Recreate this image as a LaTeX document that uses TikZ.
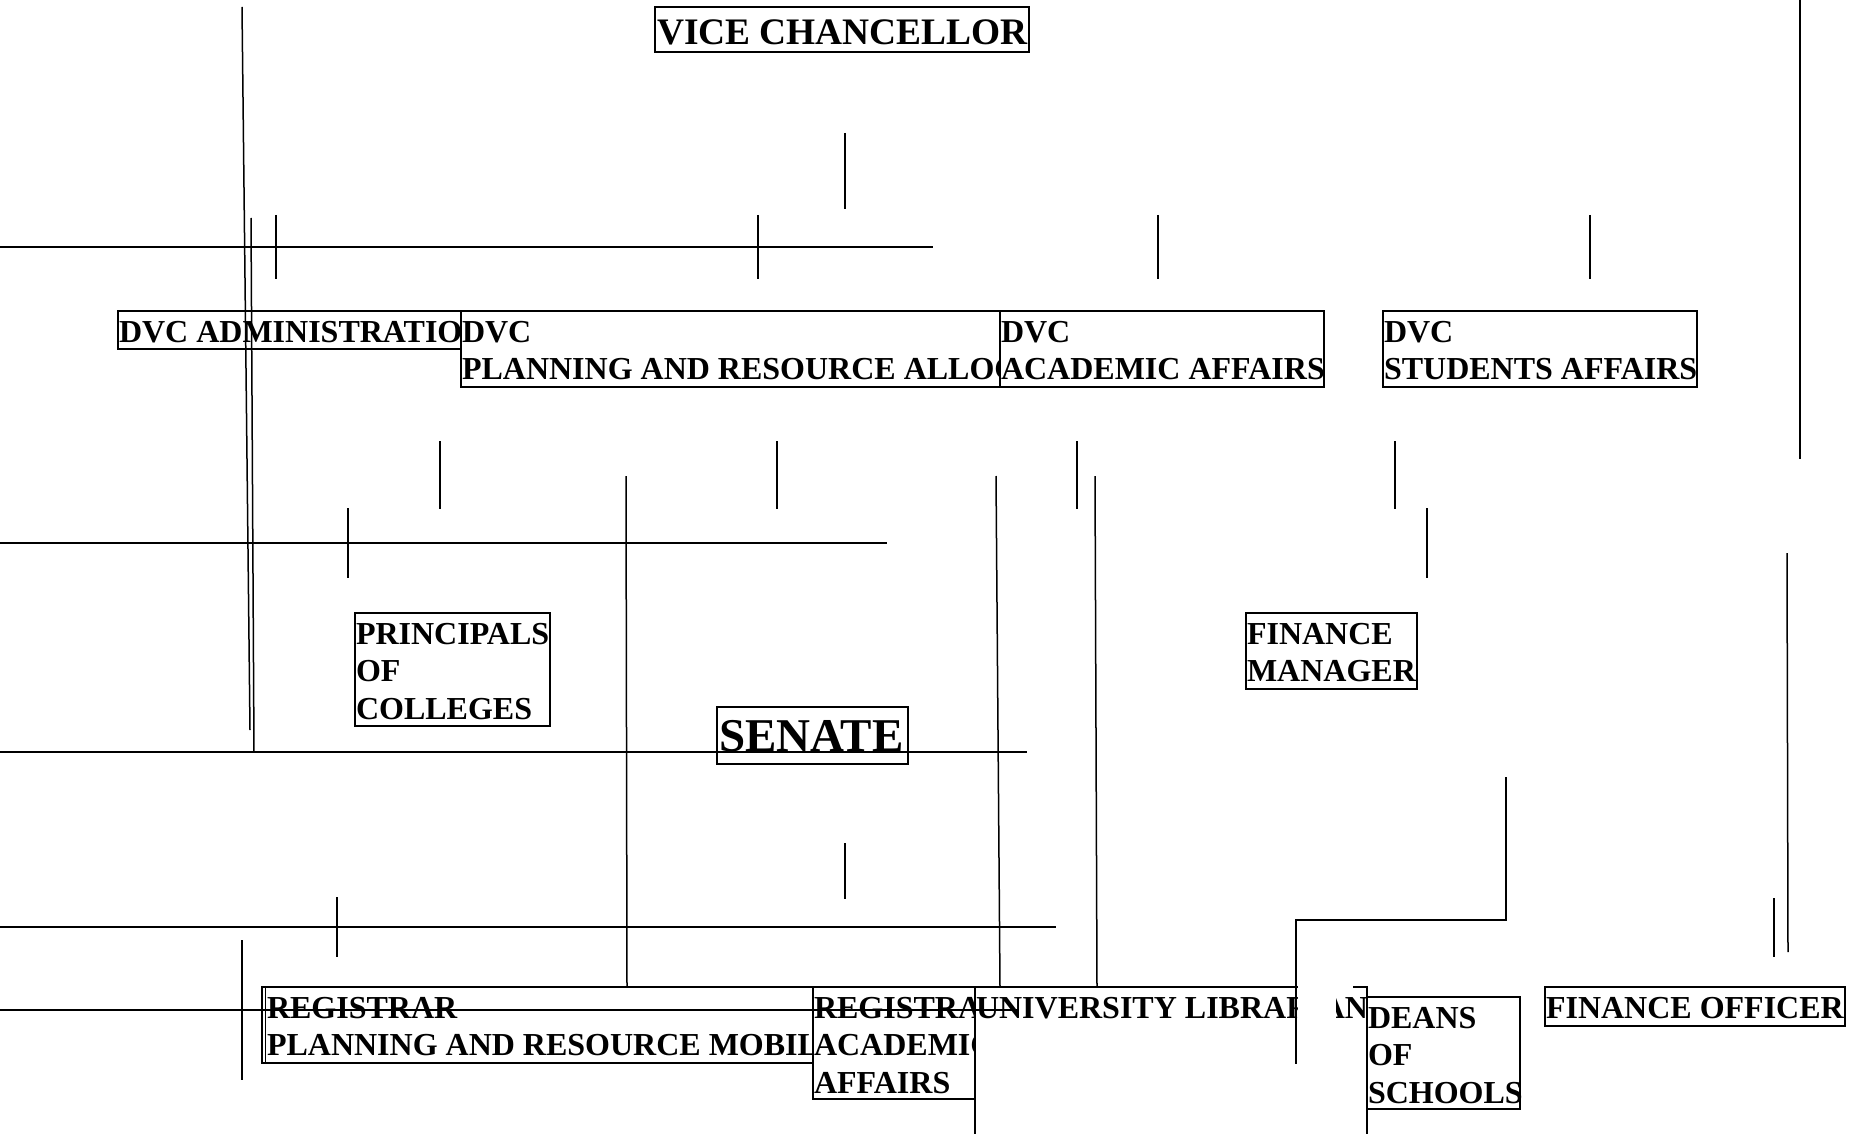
\documentclass[tikz,border=0pt]{standalone}
\usepackage{fontspec}
\setmainfont{Liberation Serif}
\begin{document}
\begin{tikzpicture}[x=1pt,y=-1pt]
\tikzset{
  box/.style={draw, fill=white, line width=1.6pt, inner sep=0pt, outer sep=0pt, anchor=north west},
  lbl/.style={inner sep=0pt, outer sep=0pt, anchor=north west, align=left,
              font=\bfseries\fontsize{32}{37.5}\selectfont},
  biglbl/.style={lbl, font=\bfseries\fontsize{37.4}{44}\selectfont},
  hugelbl/.style={lbl, font=\bfseries\fontsize{47}{54}\selectfont},
  link/.style={line width=1.5pt},
  cover/.style={fill=white, draw=none}
}
% box from its corners: name, left, top, right, bottom
\newcommand{\orgbox}[5]{%
  \node[box, minimum width={(#4-#2)*1pt}, minimum height={(#5-#3)*1pt}] (#1) at (#2,#3) {};}

\useasboundingbox (0,0) rectangle (1852,1134);
\fill[white] (0,0) rectangle (1852,1134);

% ---------- top level ----------
\orgbox{vc}{655}{7}{1029}{52}
\node[biglbl] (vc-t) at (657,20) {VICE CHANCELLOR};

% ---------- deputy vice chancellors ----------
\orgbox{dvcadm}{118}{311}{461}{349}
\node[lbl] (dvcadm-t) at (119,321) {DVC ADMINISTRATION};
\orgbox{dvcplan}{461}{311}{1000}{387}
\node[lbl] (dvcplan-t) at (462,321) {DVC\\PLANNING AND RESOURCE ALLOCATION};
\orgbox{dvcacad}{1000}{311}{1324}{387}
\node[lbl] (dvcacad-t) at (1001,321) {DVC\\ACADEMIC AFFAIRS};
\orgbox{dvcstud}{1383}{311}{1697}{387}
\node[lbl] (dvcstud-t) at (1384,321) {DVC\\STUDENTS AFFAIRS};

% ---------- middle level ----------
\orgbox{princ}{355}{613}{550}{726}
\node[lbl] (princ-t) at (356,623) {PRINCIPALS\\OF\\COLLEGES};
\orgbox{finmgr}{1246}{613}{1417}{689}
\node[lbl] (finmgr-t) at (1247,623) {FINANCE\\MANAGER};
\orgbox{senate}{717}{707}{908}{764}
\node[hugelbl] (senate-t) at (719,720) {SENATE};

% ---------- bottom level ----------
\orgbox{regplan}{262}{987}{813}{1063}
\draw[line width=1.2pt] (265.5,987) -- (265.5,1063);
\node[lbl] (regplan-t) at (267,997) {REGISTRAR\\PLANNING AND RESOURCE MOBILIZATION};
\orgbox{regacad}{813}{987}{975}{1099}
\node[lbl] (regacad-t) at (814,997) {REGISTRAR\\ACADEMIC\\AFFAIRS};
\orgbox{unilib}{975}{987}{1367}{1160}
\node[lbl] (unilib-t) at (976,997) {UNIVERSITY LIBRARIAN};
\fill[cover] (1297.5,978) rectangle (1336,1064);
\fill[cover] (1297.5,978) rectangle (1353,994);
\orgbox{deans}{1367}{997}{1520}{1109}
\node[lbl] (deans-t) at (1368,1007) {DEANS\\OF\\SCHOOLS};
\orgbox{finoff}{1545}{987}{1845}{1026}
\node[lbl] (finoff-t) at (1546,997) {FINANCE OFFICER};

% ---------- connecting lines ----------
\draw[link] (242,7) -- (250,730);
\draw[link] (251,218) -- (254,752);
\draw[link] (0,247) -- (933,247);
\draw[link] (276,215) -- (276,279);
\draw[link] (758,215) -- (758,279);
\draw[link] (845,133) -- (845,209);
\draw[link] (1158,215) -- (1158,279);
\draw[link] (1590,215) -- (1590,279);
\draw[link] (1800,0) -- (1800,459);

\draw[link] (0,543) -- (887,543);
\draw[link] (348,508) -- (348,578);
\draw[link] (440,441) -- (440,509);
\draw[link] (777,441) -- (777,509);
\draw[link] (1077,441) -- (1077,509);
\draw[link] (1395,441) -- (1395,509);
\draw[link] (1427,508) -- (1427,578);
\draw[link] (626,476) -- (regplan.north west -| 627,0);
\draw[link] (996,476) -- (1000,987);
\draw[link] (1095,476) -- (1097,987);
\draw[link] (1787,553) -- (1788,952);

\draw[link] (0,752) -- (1027,752);
\draw[link] (1506,777) |- (1296,920) -- (1296,1064);

\draw[link] (0,927) -- (1056,927);
\draw[link] (337,897) -- (337,957);
\draw[link] (845,843) -- (845,899);
\draw[link] (242,940) -- (242,1080);
\draw[link] (0,1010) -- (1018,1010);
\draw[link] (1774,898) -- (1774,957);
\end{tikzpicture}
\end{document}
